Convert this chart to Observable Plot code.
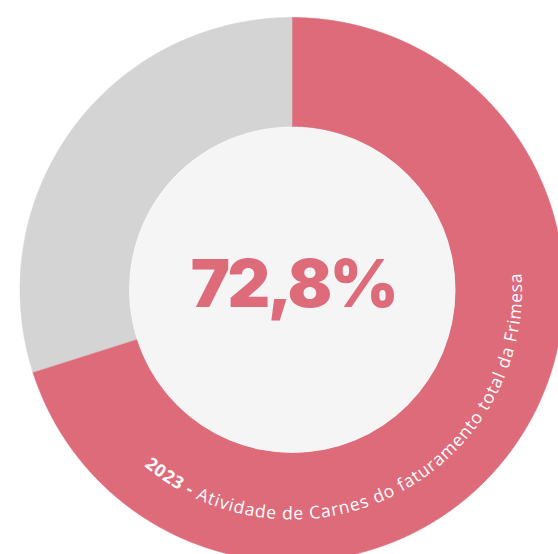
<!DOCTYPE html>
<html><head><meta charset="utf-8">
<script src="https://cdn.jsdelivr.net/npm/d3@7"></script>
<script src="https://cdn.jsdelivr.net/npm/@observablehq/plot@0.6"></script>
<style>body{margin:0;background:#fff;overflow:hidden;}</style>
</head><body><div id="chart"></div>
<script>
// Data (arc shares read from the drawn ring; center label as printed)
const segments = ["Carnes", "Demais atividades"];
const shares = [70.1, 29.9];
const segmentColors = ["#DE6B7A", "#D4D4D4"];
const centerLabel = ["72,8%"];
const captionBold = "2023 -";
const captionText = " Atividade de Carnes do faturamento total da Frimesa";

const R_OUT = 272, R_IN = 163, R_TEXT = 230;

const arcs = d3.pie().sort(null)(shares);
const ring = [];
arcs.forEach((a, i) => {
  const n = Math.ceil((a.endAngle - a.startAngle) / 0.004);
  for (let k = 0; k <= n; k++) {
    const t = a.startAngle + (a.endAngle - a.startAngle) * k / n;
    ring.push({seg: segments[i], xo: R_OUT * Math.sin(t), yo: R_OUT * Math.cos(t), xi: R_IN * Math.sin(t), yi: R_IN * Math.cos(t)});
  }
});

const plot = Plot.plot({
  width: 558, height: 554, margin: 0,
  style: {background: "#fff", overflow: "hidden"},
  x: {domain: [-R_OUT, R_OUT], range: [20, 564], axis: null},
  y: {domain: [-R_OUT, R_OUT], range: [561.5, 17.5], axis: null},
  color: {domain: segments, range: segmentColors},
  marks: [
    Plot.area(ring, {x1: "xo", y1: "yo", x2: "xi", y2: "yi", z: "seg", fill: "seg", stroke: "seg", strokeWidth: 0.6}),
    Plot.dot([0], {x: () => 0, y: () => 0, r: R_IN, fill: "#F5F5F5"}),
    Plot.text(centerLabel, {x: () => 0, y: () => 0, text: d => d, fontSize: 66, fontWeight: 900, fontFamily: "Inter", fill: "#DE6B7A", dy: -4, dx: 1})
  ]
});
document.getElementById("chart").append(plot);
plot.querySelectorAll("text").forEach(t => { if (t.textContent === "72,8%") t.setAttribute("letter-spacing", -2.5); });

// curved caption along the ring
const sx = plot.scale("x").apply, sy = plot.scale("y").apply;
const deg = Math.PI / 180;
const P = th => [sx(R_TEXT * Math.sin(th * deg)), sy(R_TEXT * Math.cos(th * deg))];
const p0 = P(220), p1 = P(30);
const rpx = sx(R_TEXT) - sx(0);
const svg = d3.select(plot);
svg.append("defs").append("path").attr("id", "capPath")
  .attr("d", `M${p0[0]},${p0[1]} A${rpx},${rpx} 0 1 0 ${p1[0]},${p1[1]}`);
const txt = svg.append("text").attr("font-family", "Open Sans").attr("font-size", 17.5)
  .attr("text-anchor", "start").attr("fill", "#fff").attr("letter-spacing", 0.9);
const tp = txt.append("textPath").attr("href", "#capPath").attr("startOffset", 0);
tp.append("tspan").attr("font-weight", 700).text(captionBold);
tp.append("tspan").text(captionText);
</script></body></html>
